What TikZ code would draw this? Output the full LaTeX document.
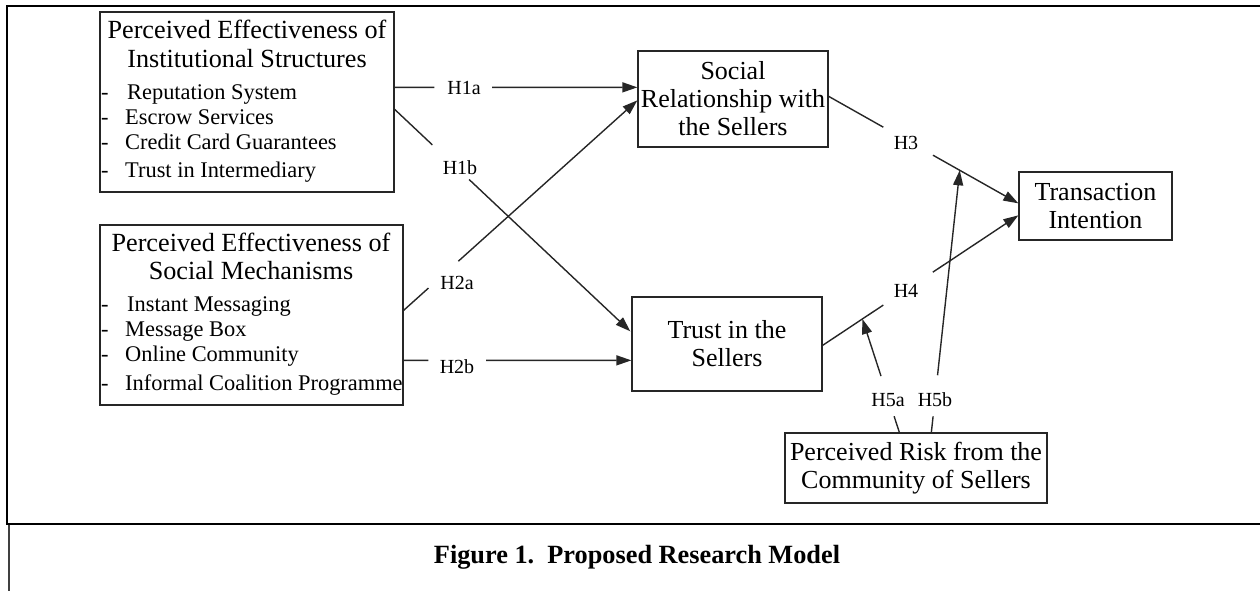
\documentclass[tikz,border=0pt]{standalone}
\usepackage{fontspec}
\setmainfont{Liberation Serif}
\usetikzlibrary{arrows.meta,calc}
\begin{document}
\begin{tikzpicture}[x=1pt,y=-1pt,
  box/.style={draw=black!85,line width=1.3pt,inner sep=0pt,align=center,font=\fontsize{26}{28}\selectfont},
  ttl/.style={inner sep=0pt,align=center,font=\fontsize{26.2}{28.5}\selectfont},
  item/.style={inner sep=0pt,anchor=west,text height=15pt,text depth=5pt,font=\fontsize{22.4}{25}\selectfont},
  lbl/.style={inner sep=0pt,font=\fontsize{20}{22}\selectfont},
  conn/.style={line width=1.4pt,draw=black!85},
  arr/.style={conn,-{Triangle[length=15pt,width=10pt]}},
  frame/.style={line width=2pt,black}]
\useasboundingbox (0,0) rectangle (1260,590);
% frames
\draw[frame] (1262,6) -- (7,6) -- (7,524) -- (1262,524);
\draw[line width=2pt,black!75] (9,525) -- (9,592);
\node[inner sep=0pt,font=\fontsize{26.3}{28}\selectfont\bfseries] (cap) at (637,557) {Figure 1.\ \ Proposed Research Model};
% boxes
\node[box,minimum width=294pt,minimum height=180pt] (A) at (247,102) {};
\node[ttl] (At) at (247,44) {Perceived Effectiveness of\\Institutional Structures};
\node[item] (A1) at (101,94) {\makebox[26pt][l]{-}Reputation System};
\node[item] (A2) at (101,119) {\makebox[24pt][l]{-}Escrow Services};
\node[item] (A3) at (101,144) {\makebox[24pt][l]{-}Credit Card Guarantees};
\node[item] (A4) at (101,172) {\makebox[24pt][l]{-}Trust in Intermediary};
\node[box,minimum width=303pt,minimum height=180pt] (B) at (251.5,315) {};
\node[ttl] (Bt) at (251,256.5) {Perceived Effectiveness of\\Social Mechanisms};
\node[item] (B1) at (101,306) {\makebox[26pt][l]{-}Instant Messaging};
\node[item] (B2) at (101,331) {\makebox[24pt][l]{-}Message Box};
\node[item] (B3) at (101,356) {\makebox[24pt][l]{-}Online Community};
\node[item] (B4) at (101,385) {\makebox[24pt][l]{-}Informal Coalition Programme};
\node[box,minimum width=190pt,minimum height=96pt] (C) at (733,99) {Social\\Relationship with\\the Sellers};
\node[box,minimum width=190pt,minimum height=94pt] (D) at (727,344) {Trust in the\\Sellers};
\node[box,minimum width=153pt,minimum height=68pt] (E) at (1095.5,206) {Transaction\\Intention};
\node[box,minimum width=262pt,minimum height=70pt] (F) at (916,468) {Perceived Risk from the\\Community of Sellers};
% connector end points
\coordinate (s1a) at ($(A.north east)+(0,76)$);
\coordinate (e1a) at ($(C.north west)+(0,37)$);
\coordinate (s1b) at ($(A.north east)+(0,98)$);
\coordinate (e1b) at ($(D.north west)+(-1,35)$);
\coordinate (s2a) at ($(B.north east)+(0,86)$);
\coordinate (e2a) at ($(C.north west)+(0,50)$);
\coordinate (s2b) at ($(B.north east)+(0,136)$);
\coordinate (e2b) at ($(D.north west)+(0,64)$);
\coordinate (s3) at ($(C.north east)+(0,46)$);
\coordinate (e3) at ($(E.north west)+(0,32)$);
\coordinate (s4) at ($(D.north east)+(0,49)$);
\coordinate (e4) at ($(E.north west)+(0,44)$);
\coordinate (m3) at ($(s3)!0.691!(e3)$);
\coordinate (m4) at ($(s4)!0.203!(e4)$);
\coordinate (s5a) at ($(F.north west)+(115,0)$);
\coordinate (s5b) at ($(F.north west)+(147,0)$);
% labels
\node[lbl] (h1a) at (464,88) {H1a};
\node[lbl] (h1b) at (460,168) {H1b};
\node[lbl] (h2a) at (457,283) {H2a};
\node[lbl] (h2b) at (457,367) {H2b};
\node[lbl] (h3) at (906,143) {H3};
\node[lbl] (h4) at (906,291) {H4};
\node[lbl] (h5a) at (888,400) {H5a};
\node[lbl] (h5b) at (935,400) {H5b};
% connectors
\draw[conn] (s1a) -- ($(s1a)!0.164!(e1a)$);
\draw[arr] ($(s1a)!0.402!(e1a)$) -- (e1a);
\draw[conn] (s1b) -- ($(s1b)!0.160!(e1b)$);
\draw[arr] ($(s1b)!0.316!(e1b)$) -- (e1b);
\draw[conn] (s2a) -- ($(s2a)!0.106!(e2a)$);
\draw[arr] ($(s2a)!0.234!(e2a)$) -- (e2a);
\draw[conn] (s2b) -- ($(s2b)!0.109!(e2b)$);
\draw[arr] ($(s2b)!0.362!(e2b)$) -- (e2b);
\draw[conn] (s3) -- ($(s3)!0.288!(e3)$);
\draw[arr] ($(s3)!0.550!(e3)$) -- (e3);
\draw[conn] (s4) -- ($(s4)!0.310!(e4)$);
\draw[arr] ($(s4)!0.563!(e4)$) -- (e4);
\draw[conn] (s5a) -- ($(s5a)!0.142!(m4)$);
\draw[arr] ($(s5a)!0.496!(m4)$) -- (m4);
\draw[conn] (s5b) -- ($(s5b)!0.061!(m3)$);
\draw[arr] ($(s5b)!0.218!(m3)$) -- (m3);
\end{tikzpicture}
\end{document}
